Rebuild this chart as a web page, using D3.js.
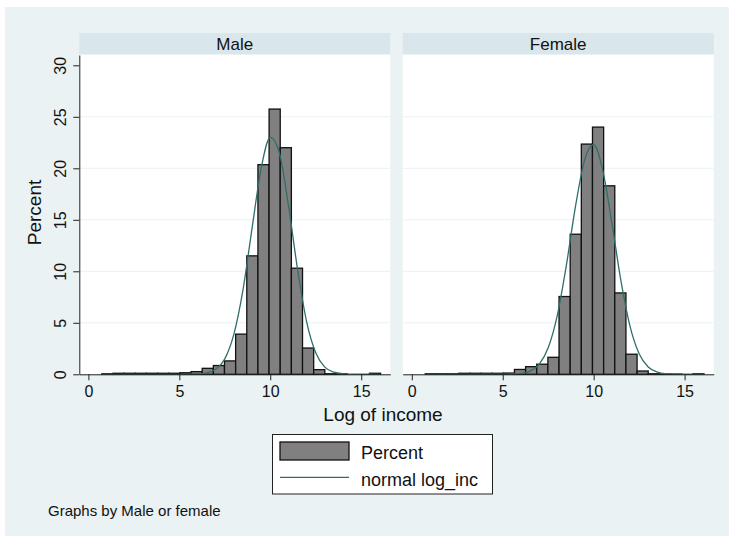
<!DOCTYPE html>
<html>
<head>
<meta charset="utf-8">
<script src="https://cdn.jsdelivr.net/npm/d3@7"></script>
<style>
  body { margin: 0; background: #fff; }
  svg text { font-family: "Liberation Sans", Arial, sans-serif; fill: #111; }
</style>
</head>
<body>
<div id="graph"></div>
<script>
// histogram bins (shared by both panels)
var binEdges = [0.740, 1.353, 1.966, 2.579, 3.192, 3.805, 4.418, 5.031, 5.644, 6.257,
  6.870, 7.483, 8.096, 8.709, 9.322, 9.935, 10.548, 11.161, 11.774, 12.387,
  13.000, 13.613, 14.226, 14.839, 15.452, 16.065];
var panels = ["Male", "Female"];
var maleBars = [0.05, 0.1, 0.1, 0.1, 0.1, 0.1, 0.1, 0.15, 0.26, 0.58, 0.85, 1.3, 3.9,
  11.5, 20.35, 25.75, 22.0, 10.3, 2.55, 0.45, 0.05, 0.05, 0, 0, 0.1];
var femaleBars = [0.05, 0.05, 0.05, 0.1, 0.1, 0.1, 0.1, 0.12, 0.47, 0.74, 0.98, 1.65, 7.55,
  13.6, 22.35, 24.0, 18.3, 7.9, 1.95, 0.32, 0.05, 0.03, 0.02, 0, 0.05];
// normal density overlay
var curveX = [0.74, 5, 5.5, 6, 6.5, 7, 7.5, 8, 8.5, 9, 9.5, 10, 10.5, 11, 11.5, 12, 12.5, 13, 13.5, 14, 14.5, 16.06];
var maleCurve = [0, 0, 0.01, 0.03, 0.13, 0.5, 1.5, 3.9, 8.2, 14.2, 20.0, 23.0, 21.5, 16.4, 10.2, 5.1, 2.1, 0.7, 0.2, 0.05, 0.01, 0];
var femaleCurve = [0, 0.01, 0.03, 0.08, 0.3, 0.97, 2.58, 5.73, 10.6, 16.3, 20.8, 22.3, 19.8, 14.7, 9.06, 4.66, 2.0, 0.71, 0.21, 0.05, 0.01, 0];
var yTicks = [0, 5, 10, 15, 20, 25, 30];
var xTicks = [0, 5, 10, 15];

var width = 729, height = 536;
var panelLeft = [79.3, 402.7];
var panelW = 311, plotTop = 55, plotBottom = 374.3;
var barColor = "#808080", lineColor = "#2f6f6a";

var svg = d3.select("#graph").append("svg")
    .attr("width", width)
    .attr("height", height);

// graph region background
svg.append("rect")
    .attr("x", 5).attr("y", 7)
    .attr("width", width - 5).attr("height", height - 7)
    .attr("fill", "#eaf2f3");

var y = d3.scaleLinear().domain([0, 31]).range([plotBottom, plotTop]);

var data = [
  { name: panels[0], bars: maleBars, curve: maleCurve },
  { name: panels[1], bars: femaleBars, curve: femaleCurve }
];

data.forEach(function(p, pi) {
  var x0 = panelLeft[pi];
  var x = d3.scaleLinear().domain([-0.5, 16.6]).range([x0, x0 + panelW]);

  // strip header
  svg.append("rect")
      .attr("x", x0).attr("y", 33)
      .attr("width", panelW).attr("height", 21)
      .attr("fill", "#d9e6eb");
  svg.append("text")
      .attr("x", x0 + panelW / 2).attr("y", 49.5)
      .attr("text-anchor", "middle")
      .style("font-size", "17px")
      .text(p.name);

  // plot region
  svg.append("rect")
      .attr("x", x0).attr("y", plotTop)
      .attr("width", panelW).attr("height", plotBottom - plotTop)
      .attr("fill", "#fff");

  svg.append("g").selectAll("line")
      .data(yTicks.filter(function(d) { return d > 0 && d < 30; }))
    .enter().append("line")
      .attr("x1", x0).attr("x2", x0 + panelW)
      .attr("y1", function(d) { return y(d); })
      .attr("y2", function(d) { return y(d); })
      .attr("stroke", "#eaf2f3")
      .attr("stroke-width", 1);

  // bars
  svg.append("g").selectAll("rect")
      .data(p.bars)
    .enter().append("rect")
      .attr("x", function(d, i) { return x(binEdges[i]); })
      .attr("width", function(d, i) { return x(binEdges[i + 1]) - x(binEdges[i]); })
      .attr("y", function(d) { return y(d); })
      .attr("height", function(d) { return plotBottom - y(d); })
      .attr("fill", barColor)
      .attr("stroke", "#111")
      .attr("stroke-width", 1.3);

  // normal curve
  var line = d3.line()
      .x(function(d, i) { return x(curveX[i]); })
      .y(function(d) { return y(d); })
      .curve(d3.curveMonotoneX);
  svg.append("path")
      .datum(p.curve)
      .attr("d", line)
      .attr("fill", "none")
      .attr("stroke", lineColor)
      .attr("stroke-width", 1.3);

  // x axis
  var gx = svg.append("g")
      .attr("transform", "translate(0," + plotBottom + ")")
      .call(d3.axisBottom(x).tickValues(xTicks).tickSize(6).tickSizeOuter(0));
  gx.select(".domain").attr("stroke", "#222");
  gx.selectAll(".tick line").attr("stroke", "#222");
  gx.selectAll(".tick text")
      .attr("y", 23).attr("dy", 0)
      .style("font-size", "16px")
      .style("font-family", "Liberation Sans, Arial, sans-serif")
      .attr("fill", "#111");

  if (pi == 0) {
    var gy = svg.append("g")
        .attr("transform", "translate(" + x0 + ",0)")
        .call(d3.axisLeft(y).tickValues(yTicks).tickSize(6).tickSizeOuter(0));
    gy.select(".domain").attr("stroke", "#222");
    gy.selectAll(".tick line").attr("stroke", "#222");
    gy.selectAll(".tick text")
        .attr("x", 0).attr("dy", 0)
        .attr("transform", "translate(-13,0) rotate(-90)")
        .attr("text-anchor", "middle")
        .style("font-size", "16px")
        .style("font-family", "Liberation Sans, Arial, sans-serif")
        .attr("fill", "#111");
  }
});

// axis titles
svg.append("text")
    .attr("transform", "translate(41,212.5) rotate(-90)")
    .attr("text-anchor", "middle")
    .style("font-size", "19px")
    .text("Percent");
svg.append("text")
    .attr("x", 383).attr("y", 421)
    .attr("text-anchor", "middle")
    .style("font-size", "19px")
    .text("Log of income");

// legend
var lg = svg.append("g");
lg.append("rect")
    .attr("x", 272.5).attr("y", 434.5)
    .attr("width", 220).attr("height", 59.5)
    .attr("fill", "#fff").attr("stroke", "#222").attr("stroke-width", 1);
lg.append("rect")
    .attr("x", 280).attr("y", 442)
    .attr("width", 69).attr("height", 18)
    .attr("fill", barColor).attr("stroke", "#111").attr("stroke-width", 1.3);
lg.append("line")
    .attr("x1", 280).attr("x2", 349)
    .attr("y1", 477.3).attr("y2", 477.3)
    .attr("stroke", lineColor).attr("stroke-width", 1.3);
lg.append("text")
    .attr("x", 361).attr("y", 458.5)
    .style("font-size", "18px")
    .text("Percent");
lg.append("text")
    .attr("x", 361).attr("y", 485.5)
    .style("font-size", "18px")
    .text("normal log_inc");

svg.append("text")
    .attr("x", 48).attr("y", 516)
    .style("font-size", "15px")
    .text("Graphs by Male or female");
</script>
</body>
</html>
